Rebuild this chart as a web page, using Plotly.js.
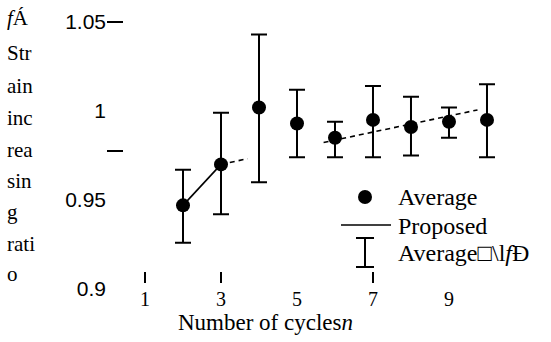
<!DOCTYPE html>
<html>
<head>
<meta charset="utf-8">
<script src="https://cdn.plot.ly/plotly-3.0.1.min.js"></script>
<style>html,body{margin:0;padding:0;background:#fff;}#chart{width:551px;height:342px;}</style>
</head>
<body>
<div id="chart"></div>
<script>
// ---- data ----
var cycles = [2, 3, 4, 5, 6, 7, 8, 9, 10];
var average = [0.947, 0.970, 1.002, 0.993, 0.985, 0.995, 0.991, 0.994, 0.995];
var upper = [0.967, 0.999, 1.043, 1.012, 0.994, 1.014, 1.008, 1.002, 1.015];
var lower = [0.926, 0.942, 0.960, 0.974, 0.974, 0.974, 0.975, 0.985, 0.974];
var proposedSolidX = [2, 3];
var proposedSolidY = [0.947, 0.970];
var proposedDashX = [3, 3.7, null, 5.7, 9.75];
var proposedDashY = [0.970, 0.9732, null, 0.9823, 1.0006];
var xTickVals = [1, 3, 5, 7, 9];
var xTickText = ['1', '3', '5', '7', '9'];
var xMarkVals = [1, 3, 7];
var yTickVals = [0.9, 0.95, 1, 1.05];
var yTickText = ['0.9', '0.95', '1', '1.05'];
var yMarkVals = [1.05, 0.9775];
var yTitleLines = ['<i>f</i>\u00C1', 'Str', 'ain', 'inc', 'rea', 'sin', 'g', 'rati', 'o'];
var legendLabels = ['Average', 'Proposed', 'Average\u25A1\\l<i>f</i>\u00D0'];
var xTitle = 'Number of cycles<i>n</i>';

// ---- layout geometry ----
var W = 551, H = 342;
var L = 107, R = 540, T = 5, B = 300;
function px(x) { return (x - L) / (R - L); }
function py(y) { return (B - y) / (B - T); }

var serif = "Liberation Serif";
var errUp = upper.map(function (u, i) { return +(u - average[i]).toFixed(4); });
var errDn = lower.map(function (l, i) { return +(average[i] - l).toFixed(4); });

var traces = [
  {
    x: proposedSolidX, y: proposedSolidY, type: 'scatter', mode: 'lines',
    line: {color: '#000', width: 1.6}, hoverinfo: 'skip', showlegend: false
  },
  {
    x: proposedDashX, y: proposedDashY, type: 'scatter', mode: 'lines',
    line: {color: '#000', width: 1.6, dash: '5px,4px'}, connectgaps: false,
    hoverinfo: 'skip', showlegend: false
  },
  {
    x: cycles, y: average, type: 'scatter', mode: 'markers',
    marker: {color: '#000', size: 14},
    error_y: {type: 'data', symmetric: false, array: errUp, arrayminus: errDn,
      color: '#000', thickness: 2, width: 8},
    showlegend: false, cliponaxis: false
  },
  {
    x: [1], y: [1], xaxis: 'x2', yaxis: 'y2', type: 'scatter', mode: 'markers',
    marker: {opacity: 0}, hoverinfo: 'skip', showlegend: false
  }
];

var xRange = [0, 11.395];
var yRange = [0.89382, 1.05955];

var annotations = [];
var yTitleY = [18, 53, 86, 118, 150, 181, 212, 244, 274];
yTitleLines.forEach(function (t, i) {
  annotations.push({xref: 'paper', yref: 'paper', x: px(5), y: py(yTitleY[i]),
    xanchor: 'left', yanchor: 'middle', text: t, showarrow: false,
    font: {family: serif, size: 21, color: '#000'}});
});
annotations.push({xref: 'paper', yref: 'paper', x: px(265), y: py(322),
  xanchor: 'center', yanchor: 'middle', text: xTitle, showarrow: false,
  font: {family: serif, size: 23, color: '#000'}});
var legY = [197, 226, 253];
legendLabels.forEach(function (t, i) {
  annotations.push({xref: 'paper', yref: 'paper', x: px(396), y: py(legY[i]),
    xanchor: 'left', yanchor: 'middle', text: t, showarrow: false,
    font: {family: serif, size: 24, color: '#000'}});
});

var shapes = [
  {type: 'circle', xref: 'paper', yref: 'paper', xsizemode: 'pixel', ysizemode: 'pixel',
    xanchor: px(365), yanchor: py(197), x0: -7, x1: 7, y0: -7, y1: 7,
    fillcolor: '#000', line: {width: 0}},
  {type: 'line', xref: 'paper', yref: 'paper', x0: px(341), x1: px(391), y0: py(225), y1: py(225),
    line: {color: '#000', width: 1.6}},
  {type: 'line', xref: 'paper', yref: 'paper', x0: px(365), x1: px(365), y0: py(238), y1: py(267),
    line: {color: '#000', width: 2}},
  {type: 'line', xref: 'paper', yref: 'paper', x0: px(356), x1: px(374), y0: py(238), y1: py(238),
    line: {color: '#000', width: 2}},
  {type: 'line', xref: 'paper', yref: 'paper', x0: px(356), x1: px(374), y0: py(267), y1: py(267),
    line: {color: '#000', width: 2}}
];

var layout = {
  width: W, height: H,
  margin: {l: L, r: W - R, t: T, b: H - B, pad: 0},
  paper_bgcolor: '#fff', plot_bgcolor: '#fff',
  showlegend: false,
  xaxis: {range: xRange, anchor: 'free', position: py(285), tickmode: 'array',
    tickvals: xTickVals, ticktext: xTickText, ticks: '', showline: false,
    showgrid: false, zeroline: false, tickfont: {family: serif, size: 20, color: '#000'}},
  xaxis2: {range: xRange, overlaying: 'x', anchor: 'free', position: py(283), side: 'bottom',
    tickmode: 'array', tickvals: xMarkVals, ticks: 'inside', ticklen: 11, tickwidth: 1.5,
    tickcolor: '#000', showticklabels: false, showline: false, showgrid: false, zeroline: false},
  yaxis: {range: yRange, tickmode: 'array', tickvals: yTickVals, ticktext: yTickText,
    ticks: '', showline: false, showgrid: false, zeroline: false,
    tickfont: {family: "Liberation Sans Narrow, Liberation Sans", size: 21, color: '#000'}},
  yaxis2: {range: yRange, overlaying: 'y', anchor: 'x', side: 'left', tickmode: 'array',
    tickvals: yMarkVals, ticks: 'inside', ticklen: 16, tickwidth: 1.5, tickcolor: '#000',
    showticklabels: false, showline: false, showgrid: false, zeroline: false},
  annotations: annotations,
  shapes: shapes
};

Plotly.newPlot('chart', traces, layout, {displayModeBar: false, staticPlot: true});
</script>
</body>
</html>
